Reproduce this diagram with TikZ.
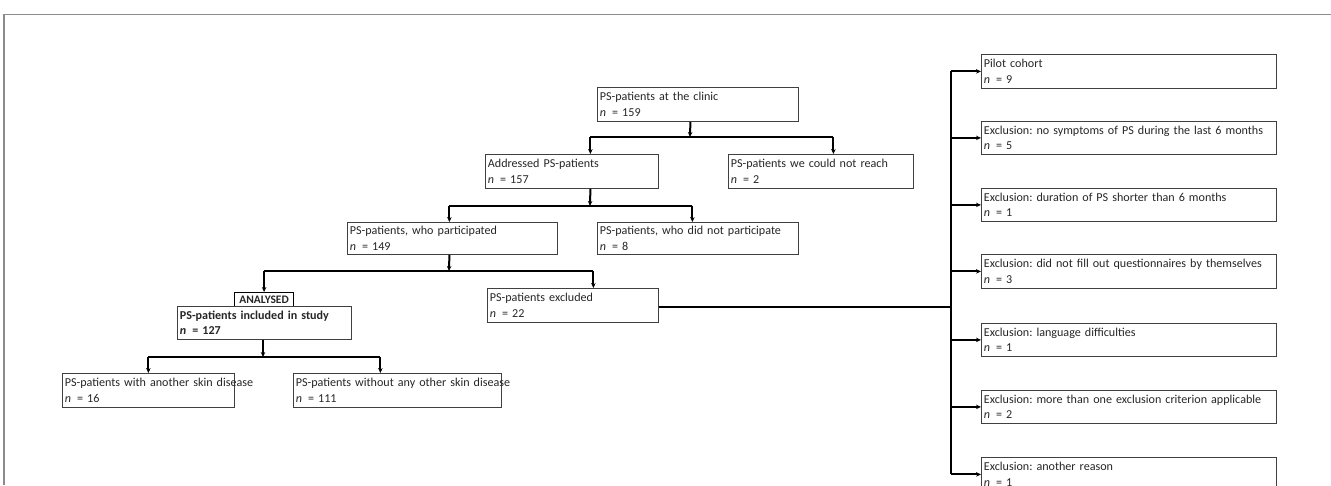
\documentclass[tikz,border=0pt]{standalone}
\usepackage{fontspec}
\setmainfont{Carlito}
\usetikzlibrary{arrows.meta}
\newcommand\mkbox[7]{%
  \pgfmathsetmacro\bw{#4-#2}\pgfmathsetmacro\bh{#5-#3}\pgfmathsetmacro\tw{#4-#2-5}%
  \node[box, minimum width=\bw pt, minimum height=\bh pt, text width=\tw pt] (#1) at (#2,#3) {\mbox{#6}\\\mbox{#7}};}
\newcommand\nn{\textit{n}\,\ = }
\begin{document}
\frenchspacing
\begin{tikzpicture}[x=1pt,y=-1pt,
  box/.style={draw=black!75, line width=0.8pt, rectangle, anchor=north west, align=left,
    inner xsep=2.5pt, inner ysep=0pt, text=black!85, font=\fontsize{12.1}{15.5}\selectfont},
  conn/.style={line width=2pt, black, -{Stealth[length=5pt,width=4.5pt]}},
  seg/.style={line width=2pt, black},
  frame/.style={draw=black!45, line width=1.5pt}]
\useasboundingbox (0,0) rectangle (1331,485);
\draw[frame] (4,485) -- (4,14.5) -- (1331,14.5);

\mkbox{clinic}{597}{87}{798}{121}{PS-patients at the clinic}{\nn 159}
\mkbox{addr}{485}{154}{658}{188}{Addressed PS-patients}{\nn 157}
\mkbox{reach}{728}{154}{913}{188}{PS-patients we could not reach}{\nn 2}
\mkbox{part}{347}{222}{557}{254}{PS-patients, who participated}{\nn 149}
\mkbox{notpart}{597}{222}{798}{254}{PS-patients, who did not participate}{\nn 8}
\mkbox{excl}{487}{288}{658}{322}{PS-patients excluded}{\nn 22}
\node[draw=black, line width=1.2pt, anchor=north west, minimum width=59pt, minimum height=14pt, inner sep=0pt,
  font=\fontsize{11.5}{12}\selectfont\bfseries, text=black!85] (analysed) at (234,292) {ANALYSED};
\mkbox{incl}{177}{306}{351}{339}{\textbf{PS-patients included in study}}{\textbf{\nn 127}}
\mkbox{skin}{62}{373}{234}{407}{PS-patients with another skin disease}{\nn 16}
\mkbox{noskin}{293}{373}{501}{407}{PS-patients without any other skin disease}{\nn 111}

\mkbox{pilot}{981}{54}{1276}{88}{Pilot cohort}{\nn 9}
\mkbox{ea}{981}{121}{1276}{154}{Exclusion: no symptoms of PS during the last 6 months}{\nn 5}
\mkbox{eb}{981}{188}{1276}{221}{Exclusion: duration of PS shorter than 6 months}{\nn 1}
\mkbox{ec}{981}{254}{1276}{288}{Exclusion: did not fill out questionnaires by themselves}{\nn 3}
\mkbox{ed}{981}{323}{1276}{356}{Exclusion: language difficulties}{\nn 1}
\mkbox{ee}{981}{390}{1276}{423}{Exclusion: more than one exclusion criterion applicable}{\nn 2}
\mkbox{ef}{981}{457}{1276}{491}{Exclusion: another reason}{\nn 1}

% level 1
\coordinate (j1) at (690,137);
\draw[conn] ([xshift=-7.5pt]clinic.south) -- (j1);
\draw[seg] ([xshift=18.5pt]addr.north |- j1) -- ([xshift=12.5pt]reach.north |- j1);
\draw[conn] ([xshift=18.5pt]addr.north |- j1) -- ([xshift=18.5pt]addr.north);
\draw[conn] ([xshift=12.5pt]reach.north |- j1) -- ([xshift=12.5pt]reach.north);
% level 2
\coordinate (j2) at (590,206);
\draw[conn] ([xshift=18.5pt]addr.south) -- (j2);
\draw[seg] ([xshift=-3pt]part.north |- j2) -- ([xshift=-5.5pt]notpart.north |- j2);
\draw[conn] ([xshift=-3pt]part.north |- j2) -- ([xshift=-3pt]part.north);
\draw[conn] ([xshift=-5.5pt]notpart.north |- j2) -- ([xshift=-5.5pt]notpart.north);
% level 3
\coordinate (j3) at (449,271);
\draw[conn] ([xshift=-3pt]part.south) -- (j3);
\draw[seg] (analysed.north |- j3) -- ([xshift=20.5pt]excl.north |- j3);
\draw[conn] (analysed.north |- j3) -- (analysed.north);
\draw[conn] ([xshift=20.5pt]excl.north |- j3) -- ([xshift=20.5pt]excl.north);
% level 4
\coordinate (j4) at (263,357);
\draw[conn] (incl.south -| j4) -- (j4);
\draw[seg] (skin.north |- j4) -- ([xshift=-17pt]noskin.north |- j4);
\draw[conn] (skin.north |- j4) -- (skin.north);
\draw[conn] ([xshift=-17pt]noskin.north |- j4) -- ([xshift=-17pt]noskin.north);
% exclusion trunk
\coordinate (tr) at (951,306.5);
\draw[seg] (excl.east |- tr) -- (tr);
\draw[seg] (tr |- pilot.west) -- (tr |- ef.west);
\foreach \b in {pilot,ea,eb,ec,ed,ee,ef}{
  \draw[conn] (tr |- \b.west) -- (\b.west);
}
\end{tikzpicture}
\end{document}
